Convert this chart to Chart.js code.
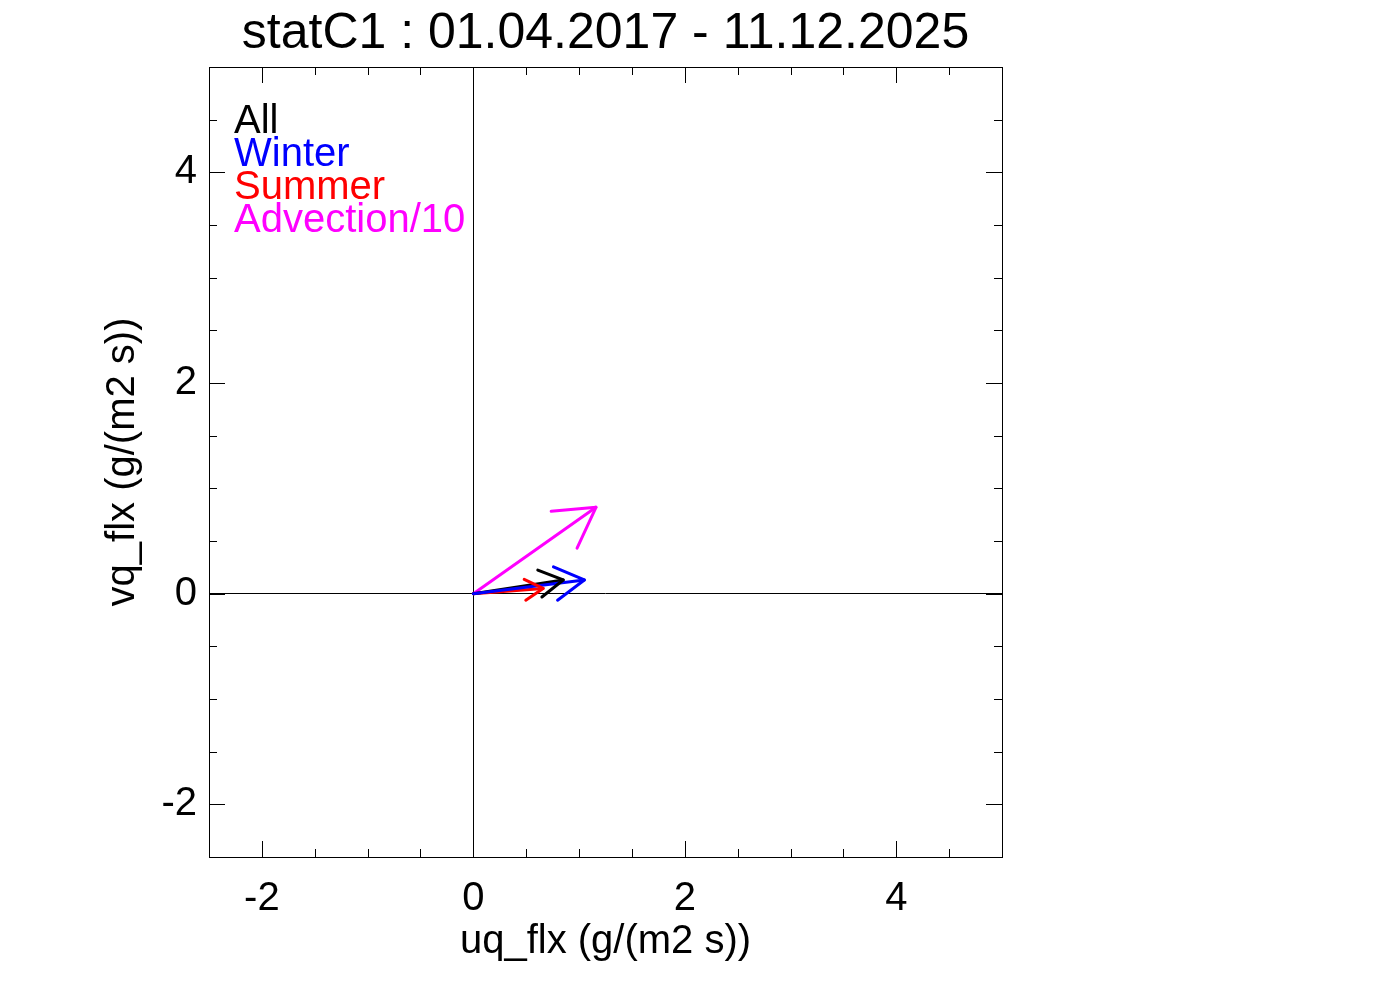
<!DOCTYPE html>
<html>
<head>
<meta charset="utf-8">
<script src="https://cdn.jsdelivr.net/npm/chart.js@4.4.1/dist/chart.umd.min.js"></script>
<style>
  html, body { margin: 0; padding: 0; background: #fff; }
  #wrap { width: 1388px; height: 992px; }
</style>
</head>
<body>
<div id="wrap"><canvas id="myChart"></canvas></div>
<script>
// flux vectors
const seriesNames = ['Winter', 'All', 'Summer', 'Advection/10'];
const seriesColors = ['#0000ff', '#000000', '#ff0000', '#ff00ff'];
const uValues = [1.05, 0.85, 0.66, 1.16];
const vValues = [0.13, 0.13, 0.05, 0.82];

// legend order as printed in the plot
const legendNames = ['All', 'Winter', 'Summer', 'Advection/10'];
const legendColors = ['#000000', '#0000ff', '#ff0000', '#ff00ff'];

const axisMin = -2.5;
const axisMax = 5;
const majorTicks = [-2, 0, 2, 4];
const minorTicks = [-2, -1.5, -1, -0.5, 0, 0.5, 1, 1.5, 2, 2.5, 3, 3.5, 4, 4.5];

const fontFamily = "'Liberation Sans', Arial, Helvetica, sans-serif";
Chart.defaults.color = '#000';
Chart.defaults.font.family = fontFamily;

const frameTicks = {
  id: 'frameTicks',
  afterDraw(chart) {
    const {ctx, chartArea: a, scales: {x, y}} = chart;
    ctx.save();
    ctx.strokeStyle = '#000';
    ctx.lineWidth = 1;
    ctx.strokeRect(a.left + 0.5, a.top + 0.5, a.width, a.height);
    ctx.beginPath();
    minorTicks.forEach(v => {
      const len = majorTicks.includes(v) ? 16 : 8;
      const px = Math.round(x.getPixelForValue(v)) + 0.5;
      ctx.moveTo(px, a.bottom); ctx.lineTo(px, a.bottom - len);
      ctx.moveTo(px, a.top); ctx.lineTo(px, a.top + len);
      const py = Math.round(y.getPixelForValue(v)) + 0.5;
      ctx.moveTo(a.left, py); ctx.lineTo(a.left + len, py);
      ctx.moveTo(a.right, py); ctx.lineTo(a.right - len, py);
    });
    ctx.stroke();

    // legend text inside the plot
    ctx.font = '40px ' + fontFamily;
    ctx.textAlign = 'left';
    ctx.textBaseline = 'alphabetic';
    legendNames.forEach((name, i) => {
      ctx.fillStyle = legendColors[i];
      ctx.fillText(name, a.left + 25, a.top + 66 + i * 33);
    });
    ctx.restore();
  }
};

const arrowHeads = {
  id: 'arrowHeads',
  afterDatasetsDraw(chart) {
    const ctx = chart.ctx;
    ctx.save();
    ctx.lineCap = 'round';
    chart.data.datasets.forEach((ds, i) => {
      const pts = chart.getDatasetMeta(i).data;
      const p0 = pts[0], p1 = pts[1];
      const dx = p1.x - p0.x, dy = p1.y - p0.y;
      const len = Math.hypot(dx, dy) * 0.3;
      const ang = Math.atan2(dy, dx) + Math.PI;
      ctx.strokeStyle = ds.borderColor;
      ctx.lineWidth = ds.borderWidth;
      ctx.beginPath();
      [-1, 1].forEach(s => {
        const a2 = ang + s * Math.PI / 6;
        ctx.moveTo(p1.x, p1.y);
        ctx.lineTo(p1.x + len * Math.cos(a2), p1.y + len * Math.sin(a2));
      });
      ctx.stroke();
    });
    ctx.restore();
  }
};

const zeroGrid = {
  color: c => (c.tick && c.tick.value === 0) ? '#000' : 'rgba(0,0,0,0)',
  lineWidth: 1,
  drawTicks: false
};

const ctx = document.getElementById('myChart');

new Chart(ctx, {
  type: 'scatter',
  data: {
    datasets: seriesNames.map((name, i) => ({
      label: name,
      data: [{x: 0, y: 0}, {x: uValues[i], y: vValues[i]}],
      showLine: true,
      borderColor: seriesColors[i],
      backgroundColor: seriesColors[i],
      borderWidth: 3,
      pointRadius: 0,
      borderCapStyle: 'round'
    }))
  },
  options: {
    responsive: true,
    maintainAspectRatio: false,
    animation: false,
    layout: { padding: { left: 0, right: 386, top: 0, bottom: 0 } },
    plugins: {
      legend: { display: false },
      tooltip: { enabled: false },
      title: {
        display: true,
        text: 'statC1 : 01.04.2017 - 11.12.2025',
        fullSize: false,
        font: { size: 50, weight: 'normal' },
        padding: { top: 4, bottom: 3 }
      }
    },
    scales: {
      x: {
        type: 'linear',
        min: axisMin,
        max: axisMax,
        afterBuildTicks: scale => { scale.ticks = majorTicks.map(v => ({value: v})); },
        afterFit: scale => { scale.height = 135; },
        ticks: { font: { size: 40 }, padding: 18, maxRotation: 0, callback: v => String(v) },
        grid: zeroGrid,
        border: { display: false },
        title: { display: true, text: 'uq_flx (g/(m2 s))', font: { size: 40 }, padding: 26 }
      },
      y: {
        type: 'linear',
        min: axisMin,
        max: axisMax,
        afterBuildTicks: scale => { scale.ticks = majorTicks.map(v => ({value: v})); },
        afterFit: scale => { scale.width = 209; },
        ticks: { font: { size: 40 }, padding: 12, callback: v => String(v) },
        grid: zeroGrid,
        border: { display: false },
        title: { display: true, text: 'vq_flx (g/(m2 s))', font: { size: 40 }, padding: 99 }
      }
    }
  },
  plugins: [arrowHeads, frameTicks]
});
</script>
</body>
</html>
